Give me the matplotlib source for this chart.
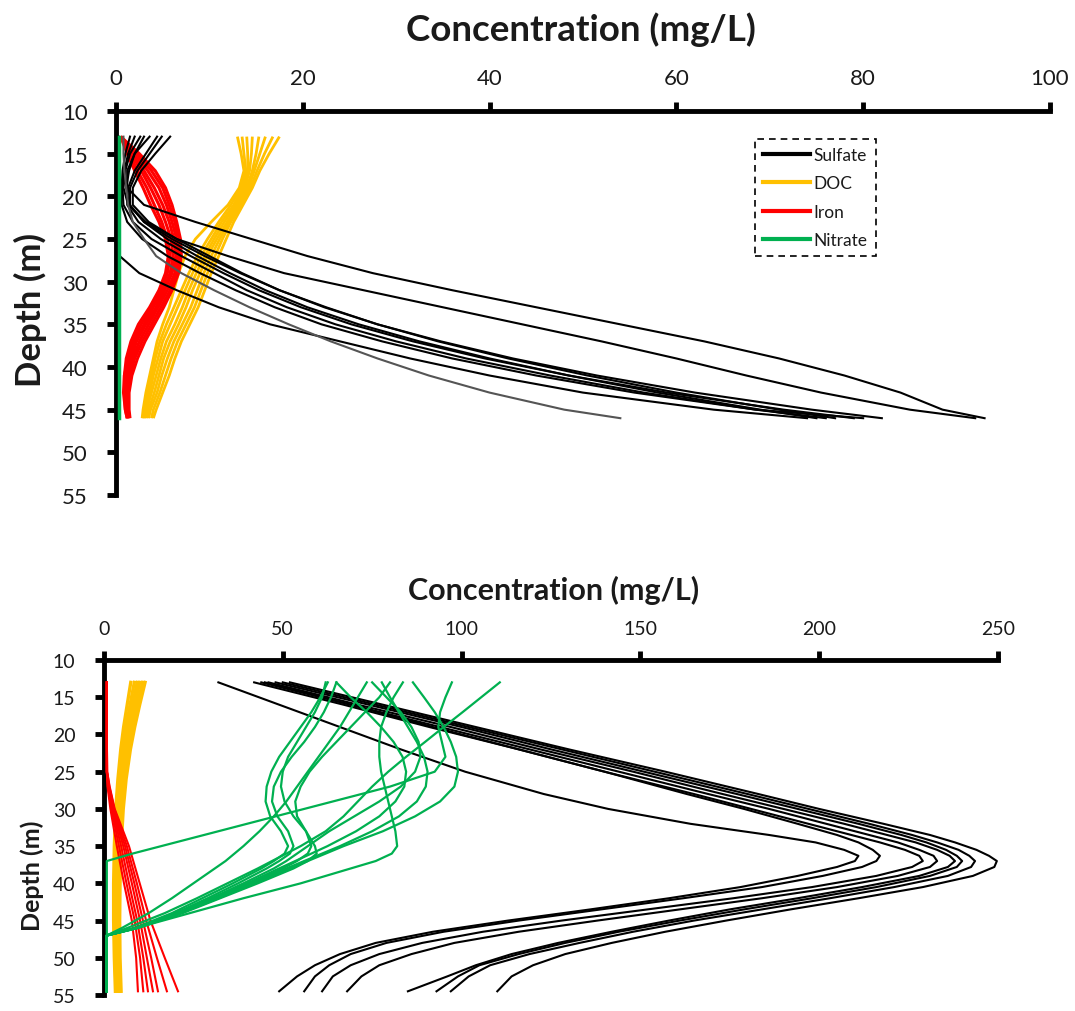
import matplotlib

matplotlib.use("Agg")
import matplotlib.pyplot as plt
from matplotlib.lines import Line2D

plt.rcParams["font.family"] = ["Lato", "DejaVu Sans"]

TXT = "#1a1a1a"
C_SO4 = "#000000"
C_DOC = "#FFC000"
C_FE = "#FF0000"
C_NO3 = "#00B050"

# ---------------- top panel (mg/L vs depth) ----------------
TOP_DEPTH = [13, 15, 17, 19, 21, 23, 25, 27, 29, 31, 33, 35, 37, 39, 41, 43, 45, 46]

TOP_SULFATE = [
    [3.6, 2.0, 1.2, 1.2, 3.0, 8.5, 14.5, 20.5, 27.5, 36, 45, 54, 63, 71, 78, 84, 88.5, 93],
    [2.6, 1.5, 1.0, 0.8, 1.3, 3.2, 6.5, 12, 18, 26.5, 35, 43.5, 52, 60, 67.5, 75.5, 85, 92],
    [5.8, 4.2, 2.7, 1.8, 1.8, 3.5, 6.5, 10, 13.5, 17.5, 22.5, 28, 34.5, 42, 50.5, 60, 71, 77],
    [4.9, 3.6, 2.3, 1.5, 1.5, 3.0, 5.5, 8.7, 12.2, 16, 20.5, 26, 32.5, 40, 48.5, 58, 69, 75],
    [4.4, 3.2, 2.0, 1.3, 1.2, 2.4, 4.8, 8.0, 11.5, 15.3, 19.8, 25.2, 31.8, 39.5, 48.5, 59, 71.5, 79],
    [2.0, 1.3, 0.9, 0.7, 0.8, 1.8, 3.8, 7.0, 10.5, 14, 18.3, 23.5, 30, 37.5, 46.5, 56.5, 68.5, 76],
    [1.5, 1.0, 0.7, 0.6, 0.6, 1.2, 2.8, 5.5, 9.0, 12.8, 17, 22, 28.5, 36, 45, 55.5, 68.5, 80],
    [0.3, 0.3, 0.3, 0.3, 0.3, 0.3, 0.3, 0.4, 2.5, 6.5, 11, 16.5, 24, 31.5, 40, 50, 64, 74],
    [3.0, 2.0, 1.4, 1.1, 1.4, 3.0, 6.0, 9.5, 13.3, 17.5, 22.3, 28, 34.8, 42.5, 51.5, 62, 74.5, 82],
]
TOP_SULFATE_GREY = [0.8, 0.8, 0.9, 1.1, 1.3, 1.8, 3.0, 4.3, 7.0, 10.5, 14.3, 18.5, 23, 28, 33.5, 40, 48, 54]

TOP_DOC = [
    [17.5, 16.4, 15.4, 14.6, 13.6, 12.6, 11.8, 11.0, 10.2, 9.5, 8.8, 7.9, 7.0, 6.3, 5.7, 5.0, 4.3, 4.0],
    [16.8, 15.9, 15.1, 14.4, 13.4, 12.3, 11.4, 10.6, 9.8, 9.1, 8.4, 7.5, 6.6, 5.9, 5.3, 4.7, 4.0, 3.8],
    [16.0, 15.4, 14.8, 14.2, 13.2, 12.1, 11.1, 10.2, 9.4, 8.7, 8.0, 7.1, 6.2, 5.5, 4.9, 4.4, 3.7, 3.5],
    [15.3, 15.0, 14.6, 14.0, 13.0, 11.9, 10.8, 9.8, 9.0, 8.2, 7.5, 6.7, 5.8, 5.1, 4.6, 4.1, 3.5, 3.3],
    [14.6, 14.5, 14.3, 13.8, 12.8, 11.6, 10.5, 9.5, 8.6, 7.8, 7.1, 6.3, 5.4, 4.8, 4.3, 3.8, 3.3, 3.1],
    [14.0, 14.1, 14.1, 13.6, 12.6, 11.3, 10.2, 9.1, 8.2, 7.4, 6.6, 5.8, 5.0, 4.5, 4.0, 3.6, 3.1, 3.0],
    [13.5, 13.7, 13.9, 13.4, 12.3, 11.0, 9.8, 8.7, 7.8, 7.0, 6.2, 5.4, 4.7, 4.2, 3.8, 3.4, 3.0, 2.9],
    [13.0, 13.4, 13.7, 13.2, 12.0, 10.2, 8.5, 7.4, 6.7, 6.2, 5.7, 5.0, 4.4, 4.0, 3.6, 3.2, 2.9, 2.8],
]

TOP_IRON = [
    [0.5, 2.5, 4.2, 5.3, 6.0, 6.5, 6.9, 7.0, 6.7, 6.0, 5.1, 4.1, 3.1, 2.3, 1.7, 1.4, 1.4, 1.5],
    [0.5, 2.2, 3.8, 5.0, 5.7, 6.3, 6.7, 6.8, 6.5, 5.8, 4.8, 3.8, 2.8, 2.0, 1.5, 1.3, 1.3, 1.4],
    [0.5, 2.0, 3.4, 4.6, 5.4, 6.0, 6.5, 6.6, 6.3, 5.5, 4.5, 3.5, 2.5, 1.8, 1.3, 1.1, 1.2, 1.4],
    [0.5, 1.8, 3.0, 4.1, 5.0, 5.7, 6.2, 6.4, 6.0, 5.2, 4.3, 3.2, 2.2, 1.6, 1.1, 1.0, 1.1, 1.3],
    [0.5, 1.6, 2.7, 3.7, 4.6, 5.3, 5.9, 6.1, 5.8, 5.0, 4.0, 3.0, 2.0, 1.4, 1.0, 0.9, 1.1, 1.3],
    [0.5, 1.4, 2.3, 3.3, 4.1, 4.9, 5.5, 5.8, 5.5, 4.8, 3.8, 2.7, 1.8, 1.3, 0.9, 0.9, 1.0, 1.2],
    [0.5, 1.2, 2.0, 2.9, 3.7, 4.6, 5.3, 5.6, 5.3, 4.6, 3.6, 2.4, 1.6, 1.1, 0.9, 0.8, 1.0, 1.2],
]

TOP_NITRATE = [0.3] * len(TOP_DEPTH)

# ---------------- bottom panel ----------------
BOT_SO4_DEPTH = [13, 16, 19, 22, 25, 28, 30, 32, 33.5, 34.5, 35.5, 36.3, 37, 37.8, 39,
                 40.5, 42, 43.5, 45, 46.5, 48, 49.5, 51, 52.5, 54.5]
BOT_SULFATE = [
    [32, 49, 66, 83, 101, 123, 141, 164, 186, 199, 207, 211, 210, 205, 194,
     178, 158, 136, 113, 92, 76, 66, 59, 54, 49],
    [45, 69, 92, 116, 140, 163, 179, 194, 205, 211, 215, 217, 216, 212, 201,
     184, 162, 139, 116, 95, 79, 69, 63, 59, 56],
    [42, 67, 91, 116, 140, 165, 181, 197, 209, 217, 224, 228, 229, 226, 216,
     198, 176, 152, 128, 106, 89, 77, 69, 64, 61],
    [44, 69, 94, 119, 144, 169, 186, 202, 214, 222, 228, 232, 233, 231, 222,
     205, 184, 161, 138, 116, 98, 86, 77, 72, 68],
    [46, 71, 97, 122, 148, 173, 190, 207, 219, 227, 233, 236.5, 238, 236, 228,
     212, 194, 175, 158, 142, 127, 114, 104, 96, 85],
    [48, 74, 100, 125, 151, 177, 194, 211, 223, 230, 235.5, 238.5, 240, 238.5, 231,
     216, 198, 179, 161, 144, 129, 116, 105, 99, 93],
    [50, 76, 102, 128, 154, 180, 197, 214, 226, 233, 239, 242, 243.6, 242.5, 236,
     221, 203, 184, 165, 148, 133, 119, 108, 102, 97],
    [52, 78, 104, 130, 157, 183, 200, 218, 231, 238, 244, 247.5, 249.7, 249, 243,
     229, 211, 192, 174, 157, 142, 129, 120, 114, 110],
]

BOT_DOC_DEPTH = [13, 16, 19, 22, 26, 30, 35, 40, 45, 50, 54.5]
BOT_DOC = [
    [11.5, 10.0, 8.6, 7.4, 6.2, 5.4, 4.8, 4.5, 4.4, 4.5, 4.8],
    [10.8, 9.3, 8.0, 6.9, 5.8, 5.0, 4.4, 4.1, 4.0, 4.1, 4.4],
    [10.0, 8.6, 7.4, 6.4, 5.3, 4.6, 4.0, 3.7, 3.6, 3.7, 4.0],
    [9.3, 8.0, 6.8, 5.8, 4.8, 4.1, 3.6, 3.3, 3.2, 3.4, 3.7],
    [8.5, 7.3, 6.2, 5.3, 4.4, 3.7, 3.2, 3.0, 2.9, 3.1, 3.4],
    [7.5, 6.5, 5.5, 4.7, 3.9, 3.3, 2.9, 2.7, 2.7, 2.9, 3.2],
]

BOT_FE_DEPTH = [13, 20, 25, 27, 30, 35, 40, 45, 50, 54.5]
BOT_IRON = [
    [0.8, 0.8, 0.8, 1.0, 1.8, 3.6, 5.6, 7.8, 9.0, 9.5],
    [0.8, 0.8, 0.8, 1.1, 2.1, 4.2, 6.3, 8.6, 10.1, 11.0],
    [0.8, 0.8, 0.8, 1.2, 2.3, 4.8, 7.0, 9.3, 11.0, 12.3],
    [0.8, 0.8, 0.8, 1.3, 2.5, 5.4, 7.8, 10.1, 12.0, 13.7],
    [0.8, 0.8, 0.8, 1.4, 2.7, 5.9, 8.5, 10.9, 13.2, 15.1],
    [0.8, 0.8, 0.9, 1.5, 2.9, 6.4, 9.2, 11.8, 14.8, 17.6],
    [0.8, 0.8, 0.9, 1.6, 3.0, 7.0, 10.0, 13.0, 17.0, 20.7],
]

BOT_NO3_DEPTH = [13, 15, 17, 19, 21, 23, 25, 27, 29, 31, 33, 35, 36, 37, 38,
                 40, 42, 44, 46, 47, 50, 54.5]
BOT_NITRATE = [
    [110.7, 105.5, 100.3, 95, 89.8, 84.5, 79.5, 75, 71, 67, 62, 55, 51, 47, 43,
     34.5, 26, 17, 6.5, 0.8, 0.8, 0.8],
    [97.3, 95.5, 94, 93.5, 94.5, 95.5, 92.5, 80, 64, 48, 32, 16, 8, 0.8, 0.8,
     0.8, 0.8, 0.8, 0.8, 0.8, 0.8, 0.8],
    [86.4, 89.5, 92.5, 95, 97, 98.5, 99, 98, 94, 87, 78, 67, 62, 57, 52,
     42, 32, 21.5, 9, 0.8, 0.8, 0.8],
    [83.6, 81, 79, 77.5, 77, 77, 77.5, 78.5, 79.5, 80.5, 81.5, 82, 80.5, 76, 69,
     55, 39, 24, 9, 0.8, 0.8, 0.8],
    [62.6, 60.5, 58, 55, 52, 49, 46.8, 45.5, 45.2, 46.5, 49.5, 51.5, 50.5, 47.5, 44,
     36, 27.5, 19, 8.5, 0.8, 0.8, 0.8],
    [65, 63.5, 61.5, 59, 56, 52.5, 49.5, 47.5, 47, 48.5, 51.5, 53, 52, 49, 45.5,
     37.5, 29, 20, 9, 0.8, 0.8, 0.8],
    [77.7, 80, 82.5, 85, 87.5, 89.5, 90.5, 90, 87.5, 82.5, 75, 66, 61, 56, 51,
     41, 31, 21, 9, 0.8, 0.8, 0.8],
    [80, 77, 73, 69, 65, 61, 57.5, 55, 53.5, 54, 56.5, 58, 57, 54, 50,
     41, 31.5, 21.5, 9.5, 0.8, 0.8, 0.8],
    [65, 69, 73.5, 77.5, 81, 83.5, 84.5, 84, 81.5, 77, 70.5, 62.5, 58, 53.5, 49,
     40, 30.5, 20.5, 9, 0.8, 0.8, 0.8],
    [73.5, 71, 68.5, 66, 63, 60, 57, 54, 51, 47.5, 43.5, 39, 36.5, 34, 31,
     25, 19, 12.5, 5, 0.8, 0.8, 0.8],
    [75, 79, 83, 86, 88, 88.5, 87, 83, 77, 70, 63, 57, 54, 51, 47.5,
     39, 30, 20.5, 9, 0.8, 0.8, 0.8],
    [62, 61, 59, 56.5, 54, 51.5, 50, 49.5, 50.5, 53, 56.5, 59, 59.5, 57, 53,
     43, 32.5, 22, 9.5, 0.8, 0.8, 0.8],
]

DEPTH_TICKS = list(range(10, 60, 5))
TOP_XTICKS = [0, 20, 40, 60, 80, 100]
BOT_XTICKS = [0, 50, 100, 150, 200, 250]


def style_axes(ax, xmax, xticks, tick_fs):
    ax.set_xlim(0, xmax)
    ax.set_ylim(55, 10)
    ax.xaxis.tick_top()
    ax.set_xticks(xticks)
    ax.set_yticks(DEPTH_TICKS)
    for s in ("right", "bottom"):
        ax.spines[s].set_visible(False)
    for s in ("top", "left"):
        ax.spines[s].set_linewidth(3.5)
        ax.spines[s].set_zorder(2.5)
    ax.tick_params(direction="out", length=6.5, width=3.5, labelsize=tick_fs,
                   labelcolor=TXT)
    ax.tick_params(axis="x", pad=10)
    ax.tick_params(axis="y", pad=14)


fig = plt.figure(figsize=(10.75, 10.12), dpi=100)

# top panel
ax1 = fig.add_axes([0.1079, 0.5099, 0.8688, 0.3794])
for c in TOP_DOC:
    ax1.plot(c, TOP_DEPTH, color=C_DOC, lw=2.0, solid_capstyle="butt")
for c in TOP_IRON:
    ax1.plot(c, TOP_DEPTH, color=C_FE, lw=2.2, solid_capstyle="butt")
for c in TOP_SULFATE:
    ax1.plot(c, TOP_DEPTH, color=C_SO4, lw=1.5)
ax1.plot(TOP_SULFATE_GREY, TOP_DEPTH, color="#555555", lw=1.5)
ax1.plot(TOP_NITRATE, TOP_DEPTH, color=C_NO3, lw=2.5, zorder=3)
style_axes(ax1, 100, TOP_XTICKS, 16)

handles = [Line2D([], [], color=c, lw=3) for c in (C_SO4, C_DOC, C_FE, C_NO3)]
leg = ax1.legend(handles, ["Sulfate", "DOC", "Iron", "Nitrate"], loc="upper left",
                 bbox_to_anchor=(0.684, 0.927), borderaxespad=0, fontsize=12.5,
                 handlelength=2.7, handletextpad=0.25, labelspacing=0.72,
                 borderpad=0.45, fancybox=False, framealpha=1, labelcolor=TXT)
leg.get_frame().set_edgecolor("black")
leg.get_frame().set_linestyle((0, (4, 3)))
leg.get_frame().set_linewidth(1.2)

# bottom panel
ax2 = fig.add_axes([0.0967, 0.0158, 0.8316, 0.3310])
for c in BOT_SULFATE:
    ax2.plot(c, BOT_SO4_DEPTH, color=C_SO4, lw=1.5)
for c in BOT_DOC:
    ax2.plot(c, BOT_DOC_DEPTH, color=C_DOC, lw=2.4)
for c in BOT_IRON:
    ax2.plot(c, BOT_FE_DEPTH, color=C_FE, lw=1.5, zorder=3)
for c in BOT_NITRATE:
    ax2.plot(c, BOT_NO3_DEPTH, color=C_NO3, lw=1.6, zorder=3)
style_axes(ax2, 250, BOT_XTICKS, 14)

fig.text(0.5405, 0.9704, "Concentration (mg/L)", ha="center", va="center",
         fontsize=26.5, fontweight="bold", color=TXT)
fig.text(0.515, 0.417, "Concentration (mg/L)", ha="center", va="center",
         fontsize=22, fontweight="bold", color=TXT)
fig.text(0.028, 0.694, "Depth (m)", ha="center", va="center", rotation=90,
         fontsize=25, fontweight="bold", color=TXT)
fig.text(0.030, 0.135, "Depth (m)", ha="center", va="center", rotation=90,
         fontsize=18, fontweight="bold", color=TXT)

fig.savefig("out.png", dpi=100)
